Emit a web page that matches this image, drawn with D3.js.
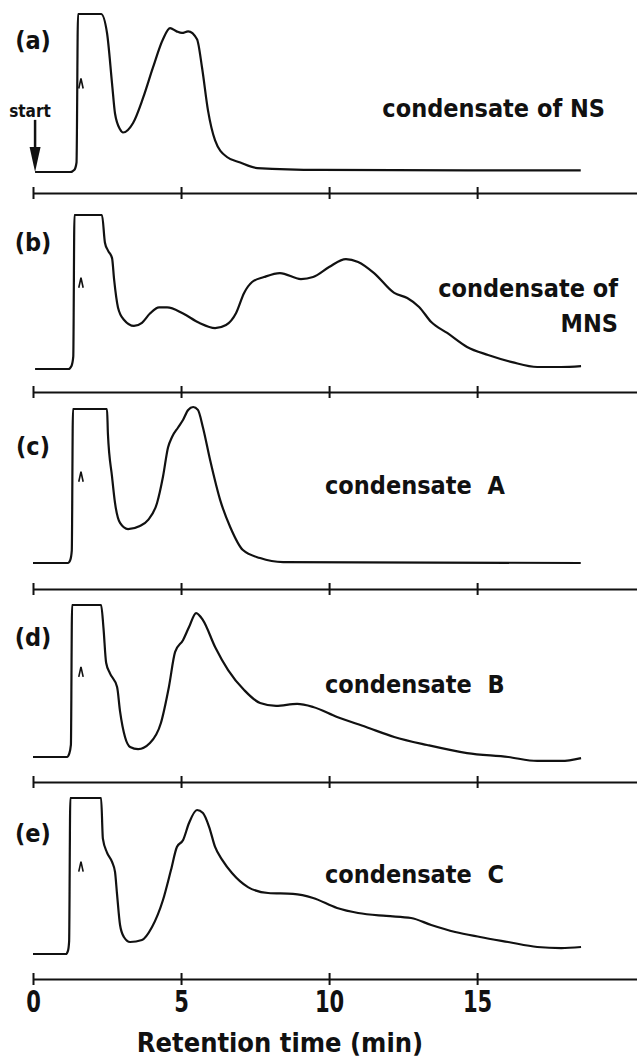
<!DOCTYPE html>
<html>
<head>
<meta charset="utf-8">
<script src="https://cdn.jsdelivr.net/npm/d3@7"></script>
<style>
  body { margin: 0; background: #fff; }
  svg text {
    font-family: "DejaVu Sans Condensed", "Liberation Sans Narrow", "DejaVu Sans", sans-serif;
    font-stretch: condensed;
    font-weight: bold;
    fill: #111;
  }
</style>
</head>
<body>
<script>
// Chromatograms: [retention time (min), detector signal (% of full scale)]
var traceA = [[0.07,0],[1.25,0],[1.40,1.5],[1.47,6],[1.52,100],[2.30,100],[2.50,88],[2.67,56],[2.77,37],[2.94,27],[3.04,25],[3.38,31],[3.72,47],[4.05,66],[4.39,84],[4.63,91],[4.85,89],[5.03,88],[5.24,89],[5.54,84],[5.71,66],[5.91,39],[6.15,20],[6.55,9.5],[7.0,6],[7.57,2.5],[9.7,1.3],[18.5,1]];
var traceB = [[0.07,0],[1.20,0],[1.30,2],[1.36,8],[1.40,100],[2.33,100],[2.43,82],[2.53,77],[2.67,72],[2.74,58],[2.87,40],[3.07,32],[3.41,28],[3.68,30],[3.95,36],[4.26,40],[4.53,40],[5.07,36],[5.61,30],[6.15,26.6],[6.52,28.6],[6.86,36.4],[7.13,49.4],[7.40,56.5],[7.80,59.7],[8.34,62.3],[9.05,58.4],[9.46,59.7],[10.0,66.2],[10.57,71.4],[10.98,69.5],[11.52,62.3],[12.20,49.4],[12.64,46.1],[13.04,40.3],[13.45,30.5],[13.99,23.4],[14.66,14.3],[15.37,9.1],[16.18,4.5],[17.03,1.3],[17.84,1.3],[18.51,1.9]];
var traceC = [[0,0],[1.18,0],[1.26,2],[1.31,8],[1.35,100],[2.50,100],[2.53,84],[2.67,56],[2.77,39],[2.94,26],[3.21,22],[3.61,24],[3.89,28],[4.19,39],[4.39,56],[4.56,75],[4.70,82],[4.90,88],[5.07,93],[5.24,99.4],[5.41,101.3],[5.57,99.4],[5.74,88],[5.98,67],[6.32,41],[6.66,23.4],[7.09,8.4],[7.67,3.2],[8.45,0.6],[18.5,0]];
var traceD = [[0,0],[1.15,0],[1.22,2],[1.28,8],[1.32,100],[2.30,100],[2.38,85],[2.47,62],[2.60,55],[2.84,46],[2.94,30],[3.11,13],[3.28,6.6],[3.55,5.2],[3.95,9.2],[4.32,22.4],[4.59,46.1],[4.80,69.1],[5.07,77],[5.27,85.5],[5.51,94.7],[5.74,90.1],[6.15,72.4],[6.59,57.2],[7.13,44.1],[7.67,35.5],[8.21,33.6],[8.92,34.9],[9.46,32.9],[10.27,26.3],[11.25,19.7],[12.20,13.2],[13.31,7.9],[14.66,2.6],[16.05,0],[17.03,-2.6],[17.84,-2.6],[18.51,-0.7]];
var traceE = [[0,0],[1.11,0],[1.18,2],[1.22,8],[1.26,100],[2.30,100],[2.36,74],[2.50,65],[2.67,59],[2.77,52.6],[2.84,38],[2.94,18.6],[3.07,10.9],[3.28,7.7],[3.68,9],[4.02,17.3],[4.39,34.6],[4.66,53.8],[4.86,68.6],[5.07,73.1],[5.27,84],[5.54,92.3],[5.74,90.4],[5.95,81.4],[6.15,68.6],[6.39,60.3],[6.72,51.9],[7.26,42.9],[7.94,39.1],[8.78,38.5],[9.46,35.9],[10.27,29.5],[10.98,26.3],[11.93,24.4],[12.77,23.1],[13.45,18.6],[14.26,14.1],[15.10,10.9],[16.05,7.7],[17.03,4.5],[17.84,3.8],[18.51,4.5]];

var traces = [traceA, traceB, traceC, traceD, traceE];
var panelTags = ["(a)", "(b)", "(c)", "(d)", "(e)"];
var panelNames = [["condensate of NS"], ["condensate of", "MNS"], ["condensate  A"], ["condensate  B"], ["condensate  C"]];
var tickValues = [0, 5, 10, 15];
var axisTitle = "Retention time (min)";

// SVG area
var svgWidth = 637;
var svgHeight = 1057;

// where each strip sits on the page (baseline, full-scale top, axis line)
var layout = [
  {base: 172, top: 14,  axisY: 193, tagY: 40,  nameX: 605, nameY: [117], anchor: "end"},
  {base: 369, top: 215, axisY: 392, tagY: 242, nameX: 618, nameY: [297, 332], anchor: "end"},
  {base: 563, top: 409, axisY: 589, tagY: 446, nameX: 325, nameY: [494], anchor: "start"},
  {base: 757, top: 605, axisY: 782, tagY: 637, nameX: 325, nameY: [693], anchor: "start"},
  {base: 954, top: 798, axisY: 979, tagY: 833, nameX: 325, nameY: [883], anchor: "start"}
];

var svg = d3.select("body")
  .append("svg")
  .attr("width", svgWidth)
  .attr("height", svgHeight);

// shared time scale
var x = d3.scaleLinear()
  .domain([0, 20.4])
  .range([33, 637]);

layout.forEach(function(p, i) {
  var y = d3.scaleLinear()
    .domain([0, 100])
    .range([p.base, p.top]);

  var line = d3.line()
    .x(d => x(d[0]))
    .y(d => y(d[1]))
    .curve(d3.curveMonotoneX);

  svg.append("path")
    .datum(traces[i])
    .attr("d", line)
    .attr("fill", "none")
    .attr("stroke", "#111")
    .attr("stroke-width", 2.2)
    .attr("stroke-linejoin", "round");

  // little caret mark on the solvent peak
  svg.append("path")
    .attr("transform", `translate(${x(1.62)},${y(56)})`)
    .attr("d", "M-2.2,5L0,-5L2.2,5")
    .attr("fill", "none")
    .attr("stroke", "#111")
    .attr("stroke-width", 1.6);

  // time axis under every strip, labels only on the last one
  var axis = d3.axisBottom(x)
    .tickValues(tickValues)
    .tickSizeInner(0)
    .tickSizeOuter(0)
    .tickFormat(i == 4 ? d3.format("d") : "");

  var g = svg.append("g")
    .attr("transform", `translate(0,${p.axisY})`)
    .call(axis);
  g.select(".domain").attr("stroke", "#111").attr("stroke-width", 2);
  g.selectAll(".tick line")
    .attr("y1", -6)
    .attr("y2", 6)
    .attr("stroke", "#111")
    .attr("stroke-width", 2);
  // tall, narrow digits like the original lettering
  g.selectAll(".tick text")
    .attr("y", 12)
    .attr("dy", "0.71em")
    .attr("font-family", null)
    .attr("font-size", null)
    .attr("transform", "scale(0.78,1)")
    .style("font-size", "30px");

  svg.append("text")
    .attr("x", 33)
    .attr("y", p.tagY)
    .attr("dy", "0.35em")
    .style("text-anchor", "middle")
    .style("font-size", "25px")
    .text(panelTags[i]);

  panelNames[i].forEach(function(s, k) {
    svg.append("text")
      .attr("x", p.nameX)
      .attr("y", p.nameY[k])
      .style("text-anchor", p.anchor)
      .style("white-space", "pre")
      .style("font-size", "25px")
      .text(s);
  });
});

// start marker in strip (a)
var ya = d3.scaleLinear().domain([0, 100]).range([layout[0].base, layout[0].top]);
svg.append("line")
  .attr("x1", x(0.07)).attr("x2", x(0.07))
  .attr("y1", ya(33)).attr("y2", ya(10))
  .attr("stroke", "#111")
  .attr("stroke-width", 2.5);
svg.append("path")
  .attr("transform", `translate(${x(0.07)},${ya(0)})`)
  .attr("d", "M0,0L-5.5,-25L5.5,-25Z")
  .attr("fill", "#111");
svg.append("text")
  .attr("x", 30)
  .attr("y", 117)
  .style("text-anchor", "middle")
  .style("font-size", "17px")
  .text("start");

svg.append("text")
  .attr("x", 280)
  .attr("y", 1052)
  .style("text-anchor", "middle")
  .style("font-size", "27px")
  .text(axisTitle);
</script>
</body>
</html>
